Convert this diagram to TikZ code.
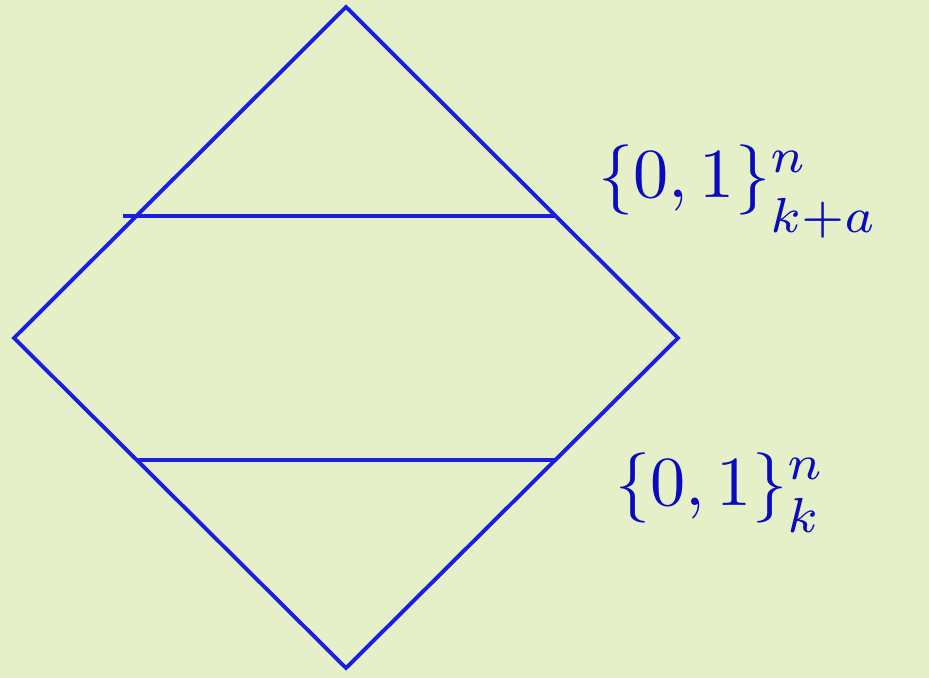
\documentclass[tikz,border=0pt]{standalone}
\usepackage{graphicx}
\usetikzlibrary{positioning}
\definecolor{paper}{RGB}{230,240,200}
\definecolor{pen}{RGB}{25,30,225}
\definecolor{ink}{RGB}{10,10,190}

\begin{document}
\begin{tikzpicture}[x=0.02cm,y=-0.02cm,edge/.style={draw=pen,line width=2.2pt,line join=miter},label/.style={text=ink,anchor=base west,inner sep=0pt}]
\fill[paper] (0,0) rectangle (929,678);
\useasboundingbox (0,0) rectangle (929,678);
\coordinate (top) at (346,7);
\coordinate (left) at (14,338);
\coordinate (right) at (678,338);
\coordinate (bottom) at (346,668);
\coordinate (u0) at (123,216);
\coordinate (u1) at (555,216);
\coordinate (l0) at (137,460);
\coordinate (l1) at (555,460);
\draw[edge] (top) -- (right) -- (bottom) -- (left) -- cycle;
\draw[edge] (u0) -- (u1);
\draw[edge] (l0) -- (l1);
\node[label] (upper) at (598,198) {\scalebox{4}{$\{0,1\}^{n}_{\raisebox{-0.25em}{$\scriptstyle k{+}a$}}$}};
\node[label] (lower) at (615,505) {\scalebox{4}{$\{0,1\}^{n}_{\raisebox{-0.15em}{$\scriptstyle k$}}$}};
\end{tikzpicture}
\end{document}
